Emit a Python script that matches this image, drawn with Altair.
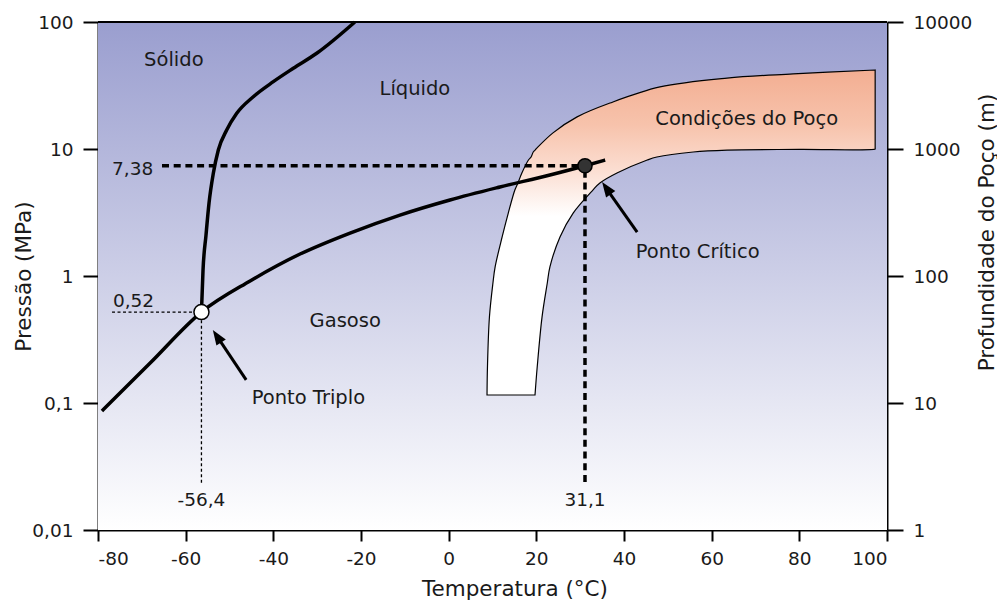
import altair as alt
import pandas as pd

FONT = "DejaVu Sans"
INK = "#1a1a1a"

# ---------------- axes ----------------
x_domain = [-80, 100]
p_domain = [0.01, 100]
depth_domain = [1, 10000]
x_ticks = [-80, -60, -40, -20, 0, 20, 40, 60, 80, 100]
p_ticks = [0.01, 0.1, 1, 10, 100]
depth_ticks = [1, 10, 100, 1000, 10000]

# ---------------- phase curves ----------------
vap_T = [-79.1, -68.1, -56.4, -45.3, -33.9, -22.5, -11.1, 0.3, 11.7, 23.1, 31.1, 35.7]
vap_P = [0.0865, 0.2065, 0.52, 0.914, 1.49, 2.18, 3.02, 3.97, 5.02, 6.24, 7.38, 8.19]

melt_T = [-56.4, -56.04, -55.36, -54.67, -53.69, -52.55, -50.64, -48.35,
          -44.57, -40.0, -35.44, -30.1, -21.4]
melt_P = [0.52, 1.115, 2.10, 3.76, 6.44, 9.82, 14.1, 19.1,
          25.8, 33.9, 43.2, 56.7, 100]

# ---------------- well conditions band ----------------
well_P = [0.1156, 0.192, 0.475, 0.881, 1.18, 2.03, 3.13, 4.75, 5.40, 6.47, 8.19,
          8.65, 9.47, 9.8, 9.93, 10.0, 10.08, 13.4, 17.9, 23.0, 30.8, 36.2, 39.0, 41.9]
well_T_outer = [8.75, 8.85, 9.3, 10.1, 10.6, 12.2, 13.6, 15.1, 15.8, 16.7, 18.2,
                18.8, 19.3, 19.7, 19.85, 19.9, 20.0, 23.8, 29.3, 36.8, 48.2, 63.5, 78.6, 97.3]
well_T_inner = [19.7, 20.2, 21.3, 22.5, 23.1, 25.4, 28.4, 32.9, 34.5, 38.4, 45.3,
                47.5, 55.8, 63.5, 80.0, 97.3, 97.3, 97.3, 97.3, 97.3, 97.3, 97.3, 97.3, 97.3]

# ---------------- special points ----------------
triple_T, triple_P = -56.4, 0.52
critical_T, critical_P = 31.1, 7.38

# guide (dashed) line extents
crit_line_start_T = -65.4
crit_line_end_P = 0.0239
trip_line_start_T = -76.8
trip_line_end_P = 0.0235

# arrows: tail -> neck (shaft) and tip (head)
arrow_tail_T = [-46.2, 43.0]
arrow_tail_P = [0.152, 2.22]
arrow_neck_T = [-52.8, 36.0]
arrow_neck_P = [0.333, 4.88]
arrow_tip_T = [-53.8, 35.0]
arrow_tip_P = [0.376, 5.50]
arrow_angles = [326.6, 325.0]

# region / annotation labels
region_labels = ["Sólido", "Líquido", "Gasoso", "Ponto Triplo", "Ponto Crítico", "Condições do Poço"]
region_T = [-62.7, -7.7, -23.6, -32.0, 56.8, 68.0]
region_P = [51.1, 30.2, 0.454, 0.1114, 1.56, 17.7]


def fmt(v):
    return str(v).replace(".", ",")


# ---------------- scales / axes ----------------
xs = alt.Scale(domain=x_domain, nice=False, zero=False)
ys = alt.Scale(type="log", domain=p_domain, nice=False)

common_axis = dict(
    grid=False, domainColor="black", domainWidth=2, tickColor="black", tickWidth=2,
    labelFont=FONT, labelFontSize=18.5, labelColor=INK,
    titleFont=FONT, titleFontSize=21.5, titleFontWeight="normal", titleColor=INK,
)

xaxis = alt.Axis(
    values=x_ticks, labelExpr="'' + datum.value", title="Temperatura (°C)", tickSize=11, labelPadding=8,
    titleX=416.5, titleY=65, titleBaseline="alphabetic", titleAlign="center",
    **common_axis,
)
yaxis = alt.Axis(
    values=p_ticks, format="~g", labelExpr="replace(datum.label, '.', ',')",
    title="Pressão (MPa)", tickSize=15, labelPadding=10,
    titleAngle=270, titleX=-68, titleY=254, titleBaseline="alphabetic", titleAlign="center",
    **common_axis,
)
depth_axis = alt.Axis(
    orient="right", values=depth_ticks, labelExpr="'' + datum.value", title="Profundidade do Poço (m)",
    tickSize=16, labelPadding=10,
    titleAngle=270, titleX=106, titleY=210, titleBaseline="alphabetic", titleAlign="center",
    **common_axis,
)


def X(f):
    return alt.X(f"{f}:Q", scale=xs, axis=xaxis)


def Y(f):
    return alt.Y(f"{f}:Q", scale=ys, axis=yaxis)


# ---------------- layers ----------------
bg_grad = {
    "gradient": "linear", "x1": 0, "y1": 0, "x2": 0, "y2": 1,
    "stops": [{"offset": 0, "color": "#9a9ecf"}, {"offset": 1, "color": "#ffffff"}],
}
bg_df = pd.DataFrame({"x": [x_domain[0]], "x2": [x_domain[1]], "y": [p_domain[0]], "y2": [p_domain[1]]})
bg = alt.Chart(bg_df).mark_rect(fill=bg_grad, strokeWidth=0).encode(
    x=X("x"), x2=alt.X2("x2"), y=Y("y"), y2=alt.Y2("y2")
)

band_grad = {
    "gradient": "linear", "x1": 0, "y1": 0, "x2": 0, "y2": 1,
    "stops": [
        {"offset": 0, "color": "#f3ae92"},
        {"offset": 0.17, "color": "#f7c3ac"},
        {"offset": 0.3, "color": "#fbdccf"},
        {"offset": 0.45, "color": "#ffffff"},
        {"offset": 1, "color": "#ffffff"},
    ],
}
band_df = pd.DataFrame({"p": well_P, "l": well_T_outer, "r": well_T_inner})
band = alt.Chart(band_df).mark_area(
    orient="horizontal", interpolate="catmull-rom", fill=band_grad, stroke="black", strokeWidth=1.2
).encode(y=Y("p"), x=X("l"), x2=alt.X2("r"))

# dashed guides
thick_df = pd.DataFrame({
    "x": [crit_line_start_T, critical_T], "x2": [critical_T, critical_T],
    "y": [critical_P, crit_line_end_P], "y2": [critical_P, critical_P],
})
thick = alt.Chart(thick_df).mark_rule(color="black", strokeWidth=3.5, strokeDash=[7, 4.7]).encode(
    x=X("x"), x2=alt.X2("x2"), y=Y("y"), y2=alt.Y2("y2")
)
thin_df = pd.DataFrame({
    "x": [trip_line_start_T, triple_T], "x2": [triple_T, triple_T],
    "y": [triple_P, trip_line_end_P], "y2": [triple_P, triple_P],
})
thin = alt.Chart(thin_df).mark_rule(color="black", strokeWidth=1.3, strokeDash=[3, 2.5]).encode(
    x=X("x"), x2=alt.X2("x2"), y=Y("y"), y2=alt.Y2("y2")
)

vap = alt.Chart(pd.DataFrame({"t": vap_T, "p": vap_P})).mark_line(
    color="black", strokeWidth=3.5, interpolate="monotone"
).encode(x=X("t"), y=Y("p"))
melt = alt.Chart(pd.DataFrame({"t": melt_T, "p": melt_P})).mark_line(
    color="black", strokeWidth=3.5, interpolate="monotone"
).encode(x=X("t"), y=Y("p"))

top_border = alt.Chart(pd.DataFrame({"y": [p_domain[1]]})).mark_rule(color="black", strokeWidth=2).encode(y=Y("y"))

triple_pt = alt.Chart(pd.DataFrame({"t": [triple_T], "p": [triple_P]})).mark_circle(
    color="white", stroke="black", strokeWidth=1.5, size=227, opacity=1
).encode(x=X("t"), y=Y("p"))
crit_pt = alt.Chart(pd.DataFrame({"t": [critical_T], "p": [critical_P]})).mark_circle(
    color="#333333", stroke="black", strokeWidth=1.5, size=200, opacity=1
).encode(x=X("t"), y=Y("p"))

shaft_df = pd.DataFrame({"x": arrow_tail_T, "y": arrow_tail_P, "x2": arrow_neck_T, "y2": arrow_neck_P})
shafts = alt.Chart(shaft_df).mark_rule(color="black", strokeWidth=3).encode(
    x=X("x"), x2=alt.X2("x2"), y=Y("y"), y2=alt.Y2("y2")
)
heads = []
for tx, tp, ang in zip(arrow_tip_T, arrow_tip_P, arrow_angles):
    heads.append(
        alt.Chart(pd.DataFrame({"t": [tx], "p": [tp]})).mark_point(
            shape="M0,0 L-0.75,2 L0.75,2 Z", filled=True, color="black", size=225, angle=ang, opacity=1
        ).encode(x=X("t"), y=Y("p"))
    )

reg_df = pd.DataFrame({"label": region_labels, "t": region_T, "p": region_P})
reg_text = alt.Chart(reg_df).mark_text(
    font=FONT, fontSize=19.5, color=INK, align="center", baseline="middle", dy=1
).encode(x=X("t"), y=Y("p"), text="label:N")

val_style = dict(font=FONT, fontSize=18.5, color=INK, baseline="alphabetic")
t738 = alt.Chart(pd.DataFrame({"t": [crit_line_start_T - 2.0], "p": [critical_P], "s": [fmt(critical_P)]})).mark_text(
    align="right", dy=9, **val_style).encode(x=X("t"), y=Y("p"), text="s:N")
t052 = alt.Chart(pd.DataFrame({"t": [trip_line_start_T + 0.2], "p": [triple_P], "s": [fmt(triple_P)]})).mark_text(
    align="left", dy=-5, **val_style).encode(x=X("t"), y=Y("p"), text="s:N")
tT = alt.Chart(pd.DataFrame({"t": [triple_T, critical_T], "p": [p_domain[0], p_domain[0]],
                             "s": [fmt(triple_T), fmt(critical_T)]})).mark_text(
    align="center", dy=-24, **val_style).encode(x=X("t"), y=Y("p"), text="s:N")

main = alt.layer(bg, band, thick, thin, vap, melt, top_border, triple_pt, crit_pt,
                 shafts, *heads, reg_text, t738, t052, tT)

depth_layer = alt.Chart(pd.DataFrame({"d": depth_domain})).mark_point(opacity=0).encode(
    y=alt.Y("d:Q", scale=alt.Scale(type="log", domain=depth_domain, nice=False), axis=depth_axis)
)

chart = alt.layer(main, depth_layer).resolve_scale(y="independent").properties(
    width=789, height=508,
    padding={"left": 90, "top": 14, "right": 110, "bottom": 71},
    autosize=alt.AutoSizeParams(type="none"),
    background="white",
).configure_view(strokeWidth=0)

chart.save("out.html", embed_options={"renderer": "svg", "actions": False})
